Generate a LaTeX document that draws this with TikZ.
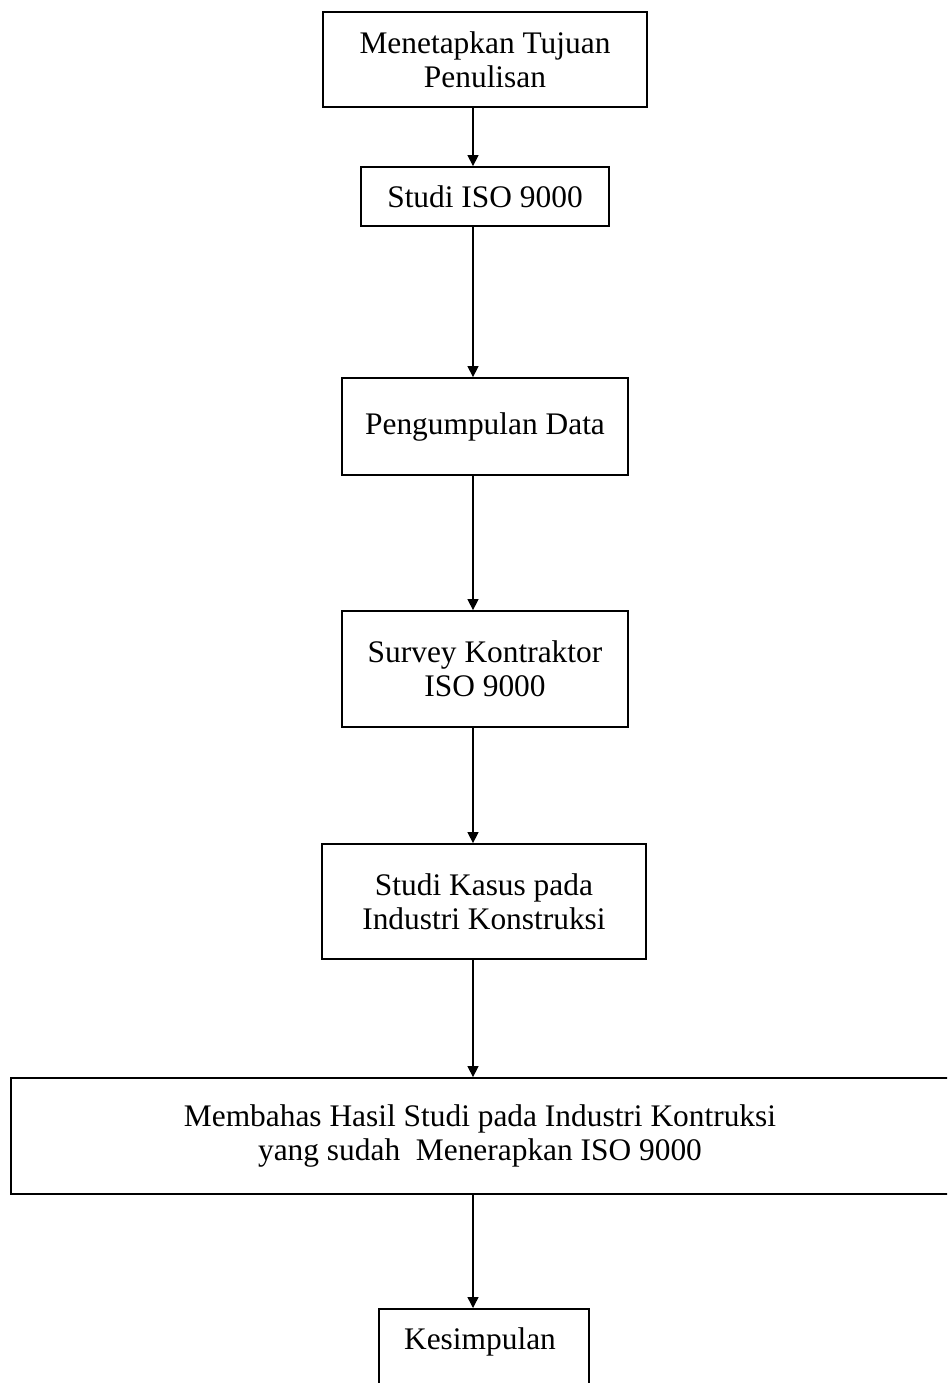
\documentclass[tikz,border=0pt]{standalone}
\usepackage{fontspec}
\setmainfont{Liberation Serif}
\usetikzlibrary{arrows.meta}
\begin{document}
\begin{tikzpicture}[x=1pt,y=1pt,
  box/.style={draw=black, line width=1.8pt, inner sep=0pt, align=center,
    font=\fontsize{31.4}{34}\selectfont},
  lbl/.style={inner sep=0pt, align=center, font=\fontsize{31.4}{34}\selectfont},
  arr/.style={draw=black, line width=1.4pt, -{Triangle[length=11pt,width=11pt]}}]
\useasboundingbox (0,0) rectangle (947,-1383);
\clip (0,0) rectangle (947,-1383);
\fill[white] (0,0) rectangle (947,-1383);
\coordinate (ax) at (473,0);
\node[box, minimum width=324, minimum height=95] (b1) at (485,-59.5) {Menetapkan Tujuan\\Penulisan};
\node[box, minimum width=248, minimum height=59] (b2) at (485,-196.5) {Studi ISO 9000};
\node[box, minimum width=286, minimum height=97] (b3) at (485,-426.5) {Pengumpulan Data};
\node[box, minimum width=286, minimum height=116] (b4) at (485,-669) {Survey Kontraktor\\ISO 9000};
\node[box, minimum width=324, minimum height=115] (b5) at (484,-901.5) {Studi Kasus pada\\Industri Konstruksi};
\node[box, minimum width=938, minimum height=116] (b6) at (480,-1136) {Membahas Hasil Studi pada Industri Kontruksi\\yang sudah\ \ Menerapkan ISO 9000};
\node[box, minimum width=210, minimum height=100, anchor=north] (b7) at (484,-1308) {};
\node[lbl] (t7) at (480,-1342) {Kesimpulan};
\draw[arr] (b1.south -| ax) -- (b2.north -| ax);
\draw[arr] (b2.south -| ax) -- (b3.north -| ax);
\draw[arr] (b3.south -| ax) -- (b4.north -| ax);
\draw[arr] (b4.south -| ax) -- (b5.north -| ax);
\draw[arr] (b5.south -| ax) -- (b6.north -| ax);
\draw[arr] (b6.south -| ax) -- (b7.north -| ax);
\end{tikzpicture}
\end{document}
